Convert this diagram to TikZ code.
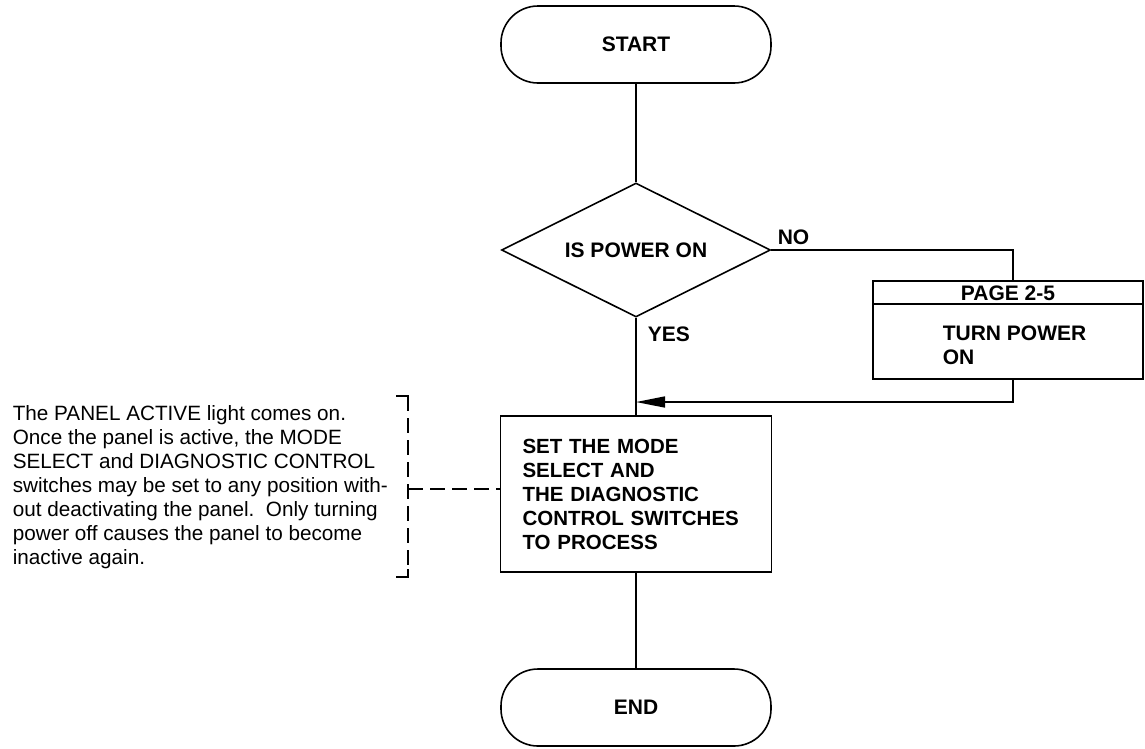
\documentclass[tikz,border=0pt]{standalone}
\usepackage{fontspec}
\setmainfont{Liberation Sans}
\usetikzlibrary{shapes.geometric,arrows.meta}
\begin{document}
\begin{tikzpicture}[x=1pt,y=-1pt,
  line width=1.6pt,
  lbl/.style={font=\fontsize{21}{24}\selectfont\bfseries, inner sep=0pt},
  term/.style={draw, rounded corners=37pt, minimum width=270pt, minimum height=77pt, lbl},
  decision/.style={draw, diamond, aspect=2, minimum width=269pt, minimum height=134pt, lbl},
  procbox/.style={draw, lbl, font=\fontsize{20.5}{24}\selectfont\bfseries, text width=227pt, inner xsep=22pt, inner ysep=0pt, minimum height=156pt, align=left},
  pagebox/.style={draw, minimum width=270pt, minimum height=98pt, inner sep=0pt},
  notetext/.style={font=\fontsize{20.7}{24}\selectfont, align=left, inner sep=0pt},
  dsh/.style={dash pattern=on 15pt off 7pt},
  tip/.style={-{Triangle[length=29pt,width=11pt]}},
]
\fill[white] (0,0) rectangle (1145,748);
\useasboundingbox (0,0) rectangle (1145,748);

\node[term] (start) at (636,44.5) {START};
\node[decision] (dec) at (636,250) {IS POWER ON};
\node[lbl, anchor=west] (no) at (777,237) {NO};
\node[lbl, anchor=west] (yes) at (647,334) {YES};
\node[pagebox] (page) at (1008,330) {};
\node[lbl] (pagehdr) at (1008,293) {PAGE 2-5};
\node[lbl, anchor=west, align=left] (turn) at (942,345) {TURN POWER\\ON};
\node[procbox] (proc) at (636,494) {SET THE MODE\\SELECT AND\\THE DIAGNOSTIC\\CONTROL SWITCHES\\TO PROCESS};
\node[term] (end) at (636,707.5) {END};
\node[notetext, anchor=north west] (note) at (12,405) {The PANEL ACTIVE light comes on.\\Once the panel is active, the MODE\\SELECT and DIAGNOSTIC CONTROL\\switches may be set to any position with-\\out deactivating the panel.\ \ Only turning\\power off causes the panel to become\\inactive again.};

% header divider of page box
\draw (page.west |- 0,304) -- (page.east |- 0,304);

% bracket of the note
\coordinate (bt) at (408,396);
\coordinate (bb) at (408,577);
\coordinate (bm) at (408,489);
\draw (396,396) -- (bt) -- ++(0,8);
\draw[dsh] (bt) -- (bb);
\draw (396,577) -- (bb) -- ++(0,-8);
\draw[dsh] (bm) -- (bm -| proc.west);

% connectors
\coordinate (merge) at (636,402);
\draw (start) -- (dec);
\draw (dec.south) -- (proc.north);
\draw (dec.east) -| ([xshift=5pt]page.north);
\draw[tip] ([xshift=5pt]page.south) |- (merge);
\draw (proc.south) -- (end.north);
\end{tikzpicture}
\end{document}
